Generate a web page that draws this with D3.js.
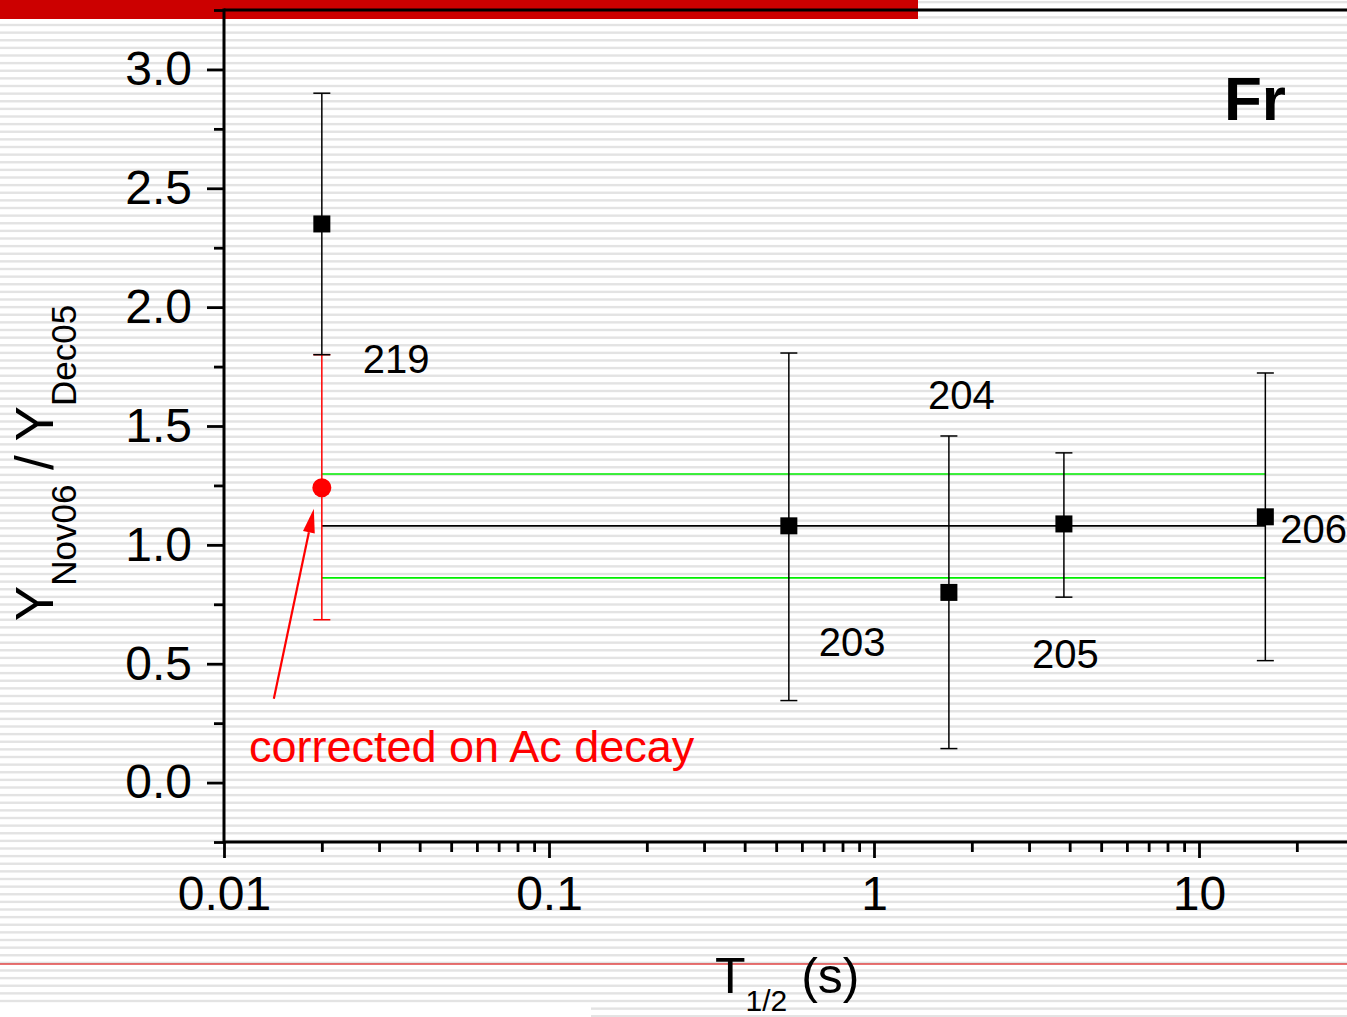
<!DOCTYPE html>
<html>
<head>
<meta charset="utf-8">
<script src="https://cdn.jsdelivr.net/npm/d3@7"></script>
<style>
  html, body { margin: 0; padding: 0; background: #fff; }
  svg { display: block; font-family: "Liberation Sans", Arial, sans-serif; }
</style>
</head>
<body>
<svg id="chart" width="1347" height="1017"></svg>
<script>
// ---------------- data ----------------
const nuclides   = ["219", "203", "204", "205", "206"];
const halfLives  = [0.020, 0.547, 1.70, 3.84, 16.0];   // T1/2 (s)
const ratios     = [2.35, 1.08, 0.80, 1.088, 1.118];   // Y_Nov06 / Y_Dec05
const errLow     = [1.80, 0.345, 0.143, 0.78, 0.513];
const errHigh    = [2.90, 1.807, 1.458, 1.387, 1.723];

const correctedT     = [0.020];
const correctedRatio = [1.24];
const correctedLow   = [0.685];
const correctedHigh  = [1.80];

const meanValue = 1.08;
const bandValues = [0.861, 1.298];

const xTickValues = [0.01, 0.1, 1, 10];
const xTickLabels = ["0.01", "0.1", "1", "10"];
const yTickValues = [0.0, 0.5, 1.0, 1.5, 2.0, 2.5, 3.0];
const yTickLabels = ["0.0", "0.5", "1.0", "1.5", "2.0", "2.5", "3.0"];

(function () {
// ---------------- layout ----------------
const W = 1347, H = 1017;
const padL = 224, padB = 842, padT = 10;
const decade = 325;
const svg = d3.select("#chart");

const x = d3.scaleLog().domain([0.01, 30]).range([padL, padL + decade * Math.log10(3000)]);
const y = d3.scaleLinear().domain([-0.25, 3.25]).range([padB, padT]);

// label offsets (px) relative to each point
const labelOffsets = [[41, 149], [30, 130], [-21, -183], [-32, 144], [15, 26]];

// ---------------- background ----------------
const bg = svg.append("g");
bg.append("rect").attr("width", W).attr("height", H).attr("fill", "#fff");
const period = 7.625;
d3.range(-3, 136).forEach(k => {
  const yy = 25 + k * period - 1.2;
  if (yy > H) return;
  const x0 = yy > 1004 ? 591 : 0;
  bg.append("rect").attr("x", x0).attr("y", yy).attr("width", W - x0).attr("height", 2.4)
    .attr("fill", "#e3e3e3");
});
bg.append("rect").attr("x", 0).attr("y", 0).attr("width", 918).attr("height", 19).attr("fill", "#cc0000");
bg.append("line").attr("x1", 0).attr("x2", W).attr("y1", 964).attr("y2", 964)
  .attr("stroke", "#e04545").attr("stroke-width", 1.6);

// ---------------- axes ----------------
const axisStyle = g => {
  g.select(".domain").remove();
  g.selectAll(".tick line").attr("stroke", "#000").attr("stroke-width", 2.8);
  g.selectAll(".tick text").attr("fill", "#000").attr("font-size", 48)
    .attr("font-family", "'Liberation Sans', Arial, sans-serif");
};

// y minor
const yMinor = d3.range(-0.25, 3.26, 0.5);
svg.append("g").attr("transform", `translate(${padL},0)`)
  .call(d3.axisLeft(y).tickValues(yMinor).tickSize(10).tickFormat(""))
  .call(axisStyle);
// y major
svg.append("g").attr("transform", `translate(${padL},0)`)
  .call(d3.axisLeft(y).tickValues(yTickValues).tickSize(17).tickPadding(15)
    .tickFormat((d, i) => yTickLabels[i]))
  .call(axisStyle);

// x minor
const xMinor = [];
[0.01, 0.1, 1, 10].forEach(b => d3.range(2, 10).forEach(m => { if (b * m <= 30) xMinor.push(b * m); }));
svg.append("g").attr("transform", `translate(0,${padB})`)
  .call(d3.axisBottom(x).tickValues(xMinor).tickSize(10).tickFormat(""))
  .call(axisStyle);
svg.append("g").attr("transform", `translate(0,${padB})`)
  .call(d3.axisBottom(x).tickValues(xTickValues).tickSize(16).tickPadding(18)
    .tickFormat((d, i) => xTickLabels[i]))
  .call(axisStyle);

// axis lines
svg.append("line").attr("x1", padL).attr("x2", padL).attr("y1", padT - 1.5).attr("y2", padB + 1.5)
  .attr("stroke", "#000").attr("stroke-width", 3);
svg.append("line").attr("x1", padL).attr("x2", W).attr("y1", padB).attr("y2", padB)
  .attr("stroke", "#000").attr("stroke-width", 3);
svg.append("line").attr("x1", padL).attr("x2", W).attr("y1", padT).attr("y2", padT)
  .attr("stroke", "#000").attr("stroke-width", 3);

// ---------------- reference lines ----------------
const [xStart, xEnd] = d3.extent(halfLives).map(x);
svg.selectAll(".band").data(bandValues).join("line")
  .attr("x1", xStart).attr("x2", xEnd).attr("y1", d => y(d)).attr("y2", d => y(d))
  .attr("stroke", "#00ee00").attr("stroke-width", 1.6);
svg.append("line").attr("x1", xStart).attr("x2", xEnd).attr("y1", y(meanValue)).attr("y2", y(meanValue))
  .attr("stroke", "#000").attr("stroke-width", 1.6);

// ---------------- corrected point (red) ----------------
const capW = 8.5;
correctedT.forEach((t, i) => {
  const cx = x(t);
  const g = svg.append("g").attr("stroke", "#ff0000").attr("stroke-width", 1.5);
  g.append("line").attr("x1", cx).attr("x2", cx).attr("y1", y(correctedHigh[i])).attr("y2", y(correctedLow[i]));
  g.append("line").attr("x1", cx - capW).attr("x2", cx + capW).attr("y1", y(correctedLow[i])).attr("y2", y(correctedLow[i]));
  g.append("line").attr("x1", cx - capW).attr("x2", cx + capW).attr("y1", y(correctedHigh[i])).attr("y2", y(correctedHigh[i]));
  svg.append("circle").attr("cx", cx).attr("cy", y(correctedRatio[i])).attr("r", 9.5).attr("fill", "#ff0000");
  // arrow
  const tipX = cx - 8, tipY = y(correctedRatio[i]) + 21;
  const tailX = cx - 48, tailY = y(correctedRatio[i]) + 211;
  const ang = Math.atan2(tipY - tailY, tipX - tailX);
  const hl = 24, hw = 6;
  const bx = tipX - hl * Math.cos(ang), by = tipY - hl * Math.sin(ang);
  svg.append("line").attr("x1", tailX).attr("y1", tailY).attr("x2", bx).attr("y2", by)
    .attr("stroke", "#ff0000").attr("stroke-width", 2.2);
  svg.append("path")
    .attr("d", `M${tipX},${tipY} L${bx + hw * Math.sin(ang)},${by - hw * Math.cos(ang)} L${bx - hw * Math.sin(ang)},${by + hw * Math.cos(ang)} Z`)
    .attr("fill", "#ff0000");
  svg.append("text").attr("x", 249).attr("y", 762).attr("fill", "#ff0000")
    .attr("font-size", 45).text("corrected on Ac decay");
});

// ---------------- main points ----------------
const pts = svg.append("g");
halfLives.forEach((t, i) => {
  const cx = x(t);
  const g = pts.append("g").attr("stroke", "#000").attr("stroke-width", 1.5);
  g.append("line").attr("x1", cx).attr("x2", cx).attr("y1", y(errHigh[i])).attr("y2", y(errLow[i]));
  g.append("line").attr("x1", cx - capW).attr("x2", cx + capW).attr("y1", y(errHigh[i])).attr("y2", y(errHigh[i]));
  g.append("line").attr("x1", cx - capW).attr("x2", cx + capW).attr("y1", y(errLow[i])).attr("y2", y(errLow[i]));
  pts.append("rect").attr("x", cx - 8.5).attr("y", y(ratios[i]) - 8.5).attr("width", 17).attr("height", 17)
    .attr("fill", "#000");
  pts.append("text").attr("x", cx + labelOffsets[i][0]).attr("y", y(ratios[i]) + labelOffsets[i][1])
    .attr("font-size", 40).attr("fill", "#000").text(nuclides[i]);
});

// ---------------- titles ----------------
svg.append("text").attr("x", 1224).attr("y", 120).attr("font-size", 62).attr("font-weight", "bold")
  .attr("fill", "#000").text("Fr");

const yt = svg.append("text").attr("transform", "translate(53,463) rotate(-90)")
  .attr("text-anchor", "middle").attr("fill", "#000").attr("font-size", 53);
yt.append("tspan").text("Y");
yt.append("tspan").attr("font-size", 35).attr("dy", 23).text("Nov06");
yt.append("tspan").attr("dy", -23).text(" / Y");
yt.append("tspan").attr("font-size", 35).attr("dy", 23).text("Dec05");

const xt = svg.append("text").attr("x", 715).attr("y", 993).attr("fill", "#000").attr("font-size", 50);
xt.append("tspan").text("T");
xt.append("tspan").attr("font-size", 30).attr("dy", 18).text("1/2");
xt.append("tspan").attr("dy", -18).text(" (s)");
})();
</script>
</body>
</html>
